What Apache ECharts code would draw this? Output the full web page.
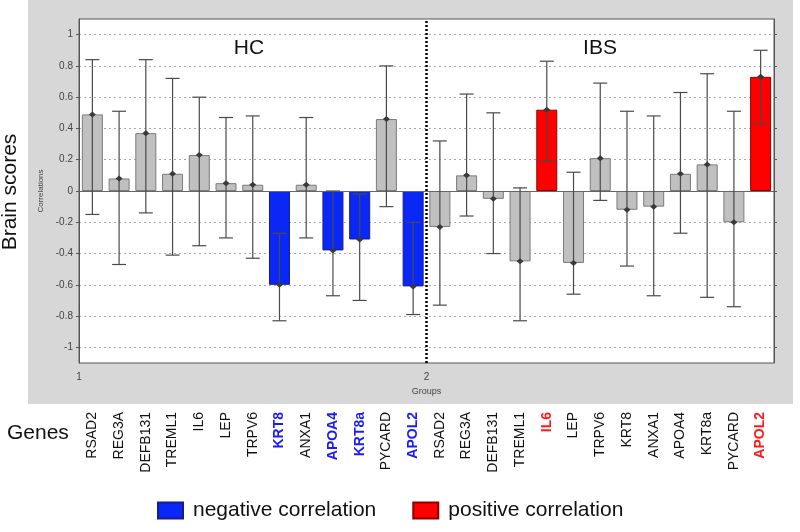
<!DOCTYPE html>
<html>
<head>
<meta charset="utf-8">
<script src="https://cdn.jsdelivr.net/npm/echarts@6/dist/echarts.min.js"></script>
<style>html,body{margin:0;padding:0;background:#fff}#c{width:800px;height:532px}</style>
</head>
<body>
<div id="c"></div>
<script>
// ---- data ----
const hcGenes  = ['RSAD2','REG3A','DEFB131','TREML1','IL6','LEP','TRPV6','KRT8','ANXA1','APOA4','KRT8a','PYCARD','APOL2'];
const ibsGenes = ['RSAD2','REG3A','DEFB131','TREML1','IL6','LEP','TRPV6','KRT8','ANXA1','APOA4','KRT8a','PYCARD','APOL2'];
const hcValues = [0.49, 0.08, 0.37, 0.11, 0.23, 0.05, 0.04, -0.60, 0.04, -0.38, -0.31, 0.46, -0.61];
const hcUpper  = [0.84, 0.51, 0.84, 0.72, 0.60, 0.47, 0.48, -0.27, 0.47, 0.00, -0.02, 0.80, -0.20];
const hcLower  = [-0.15, -0.47, -0.14, -0.41, -0.35, -0.30, -0.43, -0.83, -0.30, -0.67, -0.70, -0.10, -0.79];
const hcSig    = ['', '', '', '', '', '', '', 'neg', '', 'neg', 'neg', '', 'neg'];
const ibsValues = [-0.23, 0.10, -0.05, -0.45, 0.52, -0.46, 0.21, -0.12, -0.10, 0.11, 0.17, -0.20, 0.73];
const ibsUpper  = [0.32, 0.62, 0.50, 0.02, 0.83, 0.12, 0.69, 0.51, 0.48, 0.63, 0.75, 0.51, 0.90];
const ibsLower  = [-0.73, -0.16, -0.40, -0.83, 0.19, -0.66, -0.06, -0.48, -0.67, -0.27, -0.68, -0.74, 0.43];
const ibsSig    = ['', '', '', '', 'pos', '', '', '', '', '', '', '', 'pos'];
const yTicks = [-1, -0.8, -0.6, -0.4, -0.2, 0, 0.2, 0.4, 0.6, 0.8, 1];
const groupTicks = [1, 2, 3];

// ---- build ----
const cats = hcGenes.map((g, i) => 'HC:' + i + ':' + g).concat(ibsGenes.map((g, i) => 'IBS:' + i + ':' + g));
const sig = hcSig.concat(ibsSig);
const values = hcValues.concat(ibsValues);
const upper = hcUpper.concat(ibsUpper);
const lower = hcLower.concat(ibsLower);
const pick = (s) => values.map((v, i) => sig[i] === s ? v : '-');
const FONT = '"Liberation Sans", Arial, sans-serif';

const chart = echarts.init(document.getElementById('c'), null, {renderer: 'canvas'});
chart.setOption({
  animation: false,
  backgroundColor: '#ffffff',
  textStyle: {fontFamily: FONT},
  graphic: {elements: [
    {type: 'rect', z: -100, silent: true, shape: {x: 28, y: 0, width: 765, height: 404}, style: {fill: '#d7d7d7'}},
    {type: 'text', silent: true, x: 10, y: 192, rotation: Math.PI / 2, style: {text: 'Brain scores', font: '21px ' + FONT, fill: '#111', align: 'center', verticalAlign: 'middle'}},
    {type: 'text', silent: true, x: 7, y: 433, style: {text: 'Genes', font: '21px ' + FONT, fill: '#111', align: 'left', verticalAlign: 'middle'}},
    {type: 'text', silent: true, x: 249, y: 48, style: {text: 'HC', font: '21px ' + FONT, fill: '#111', align: 'center', verticalAlign: 'middle'}},
    {type: 'text', silent: true, x: 600, y: 48, style: {text: 'IBS', font: '21px ' + FONT, fill: '#111', align: 'center', verticalAlign: 'middle'}}
  ]},
  legend: {
    left: 157, top: 500, padding: 0, icon: 'rect', itemWidth: 25, itemHeight: 16, itemGap: 36,
    data: ['negative correlation', 'positive correlation'],
    textStyle: {fontSize: 21, color: '#111', fontFamily: FONT, padding: [0, 0, 0, 5]}
  },
  grid: {left: 79, right: 26, top: 19, bottom: 169, show: true, backgroundColor: '#ffffff', borderColor: '#555', borderWidth: 1},
  xAxis: [
    {
      type: 'category', data: cats, position: 'bottom',
      axisLine: {show: false, onZero: false}, axisTick: {show: false}, splitLine: {show: false},
      axisLabel: {
        interval: 0, rotate: 90, margin: 49, fontSize: 14, color: '#111', fontFamily: FONT,
        formatter: (v) => {
          const parts = v.split(':');
          const grp = parts[0] === 'HC' ? hcSig : ibsSig;
          const s = grp[+parts[1]];
          return '{' + (s || 'n') + '|' + parts[2] + '}';
        },
        rich: {
          n: {fontSize: 14, color: '#111', fontFamily: FONT},
          neg: {fontSize: 14, color: '#1a1aff', fontWeight: 'bold', fontFamily: FONT},
          pos: {fontSize: 14, color: '#ff1a1a', fontWeight: 'bold', fontFamily: FONT}
        }
      }
    },
    {
      type: 'value', min: groupTicks[0], max: groupTicks[groupTicks.length - 1], interval: 1, position: 'bottom',
      name: 'Groups', nameLocation: 'middle', nameGap: 20,
      nameTextStyle: {fontSize: 9, color: '#444', fontFamily: FONT},
      axisLine: {show: false, onZero: false}, axisTick: {show: false}, splitLine: {show: false},
      axisLabel: {fontSize: 10, color: '#444', margin: 9, formatter: (v) => v === 3 ? '' : String(v)}
    }
  ],
  yAxis: [
    {
      type: 'value', min: -1.1, max: 1.1, position: 'left',
      name: 'Correlations', nameLocation: 'middle', nameGap: 32,
      nameTextStyle: {fontSize: 8, color: '#444', fontFamily: FONT},
      axisLine: {show: true, lineStyle: {color: '#555'}},
      axisTick: {show: true, length: 3, customValues: yTicks, lineStyle: {color: '#555'}},
      axisLabel: {fontSize: 10, color: '#444', margin: 6, customValues: yTicks},
      splitLine: {show: true, lineStyle: {type: [2, 3], color: '#aaa', width: 1}}
    },
    {
      type: 'value', min: -1.1, max: 1.1, position: 'right',
      axisLine: {show: true, lineStyle: {color: '#555'}},
      axisTick: {show: true, length: 3, customValues: yTicks, lineStyle: {color: '#555'}},
      axisLabel: {show: false, customValues: yTicks},
      splitLine: {show: false}
    }
  ],
  series: [
    {
      name: 'other', type: 'bar', data: pick(''), barWidth: 21, barGap: '-100%',
      itemStyle: {color: '#c0c0c0', borderColor: '#7a7a7a', borderWidth: 1},
      markLine: {silent: true, symbol: 'none', label: {show: false}, lineStyle: {type: 'solid', color: '#666', width: 1}, data: [{yAxis: 0}]}
    },
    {
      name: 'negative correlation', type: 'bar', data: pick('neg'), barWidth: 21, barGap: '-100%',
      itemStyle: {color: '#0a28f5', borderColor: '#1a1a90', borderWidth: 1}
    },
    {
      name: 'positive correlation', type: 'bar', data: pick('pos'), barWidth: 21, barGap: '-100%',
      itemStyle: {color: '#ff0000', borderColor: '#900000', borderWidth: 1}
    },
    {
      name: 'error', type: 'custom', z: 10,
      data: values.map((v, i) => [i, lower[i], upper[i], v]),
      encode: {x: 0, y: [1, 2, 3]},
      renderItem: (params, api) => {
        const x = api.value(0);
        const lo = api.coord([x, api.value(1)]);
        const hi = api.coord([x, api.value(2)]);
        const mid = api.coord([x, api.value(3)]);
        const cap = 7;
        const st = {stroke: '#4a4a4a', lineWidth: 1.2, fill: null};
        return {type: 'group', children: [
          {type: 'line', shape: {x1: hi[0], y1: hi[1], x2: lo[0], y2: lo[1]}, style: st},
          {type: 'line', shape: {x1: hi[0] - cap, y1: hi[1], x2: hi[0] + cap, y2: hi[1]}, style: st},
          {type: 'line', shape: {x1: lo[0] - cap, y1: lo[1], x2: lo[0] + cap, y2: lo[1]}, style: st},
          {type: 'polygon', shape: {points: [[mid[0], mid[1] - 3], [mid[0] + 3.5, mid[1]], [mid[0], mid[1] + 3], [mid[0] - 3.5, mid[1]]]}, style: {fill: '#3a3a3a'}}
        ]};
      }
    },
    {
      name: 'divider', type: 'line', xAxisIndex: 1, yAxisIndex: 0, data: [], z: 11,
      markLine: {silent: true, symbol: 'none', label: {show: false}, lineStyle: {type: [2, 2], color: '#000', width: 2.5}, data: [{xAxis: 2}]}
    }
  ]
});
</script>
</body>
</html>
